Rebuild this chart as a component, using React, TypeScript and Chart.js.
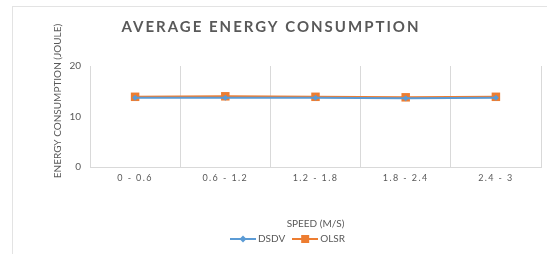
import { useEffect, useRef } from "react";
import { Chart, registerables } from "chart.js";

Chart.register(...registerables);

const categories = ["0 - 0.6", "0.6 - 1.2", "1.2 - 1.8", "1.8 - 2.4", "2.4 - 3"];
const dsdvValues = [13.7, 13.7, 13.7, 13.6, 13.7];
const olsrValues = [13.9, 14.0, 13.9, 13.8, 13.9];
const yTicks = [0, 10, 20];
const seriesNames = ["DSDV", "OLSR"];
const chartTitle = "AVERAGE ENERGY CONSUMPTION";
const yTitle = "ENERGY CONSUMPTION (JOULE)";
const xTitle = "SPEED (M/S)";

const BLUE = "#5B9BD5";
const ORANGE = "#ED7D31";
const TEXT = "#595959";
const GRID = "#D9D9D9";
const FONT = "Lato, 'Open Sans', sans-serif";
const LEGEND_SHIFT = 18;

function legendIcon(color: string, kind: "diamond" | "square") {
  const c = document.createElement("canvas");
  c.width = 26;
  c.height = 10;
  const ctx = c.getContext("2d")!;
  ctx.strokeStyle = color;
  ctx.lineWidth = 2;
  ctx.beginPath();
  ctx.moveTo(0, 5);
  ctx.lineTo(26, 5);
  ctx.stroke();
  ctx.fillStyle = color;
  if (kind === "diamond") {
    ctx.beginPath();
    ctx.moveTo(13, 1.5);
    ctx.lineTo(16.5, 5);
    ctx.lineTo(13, 8.5);
    ctx.lineTo(9.5, 5);
    ctx.closePath();
    ctx.fill();
  } else {
    ctx.fillRect(9, 1, 8, 8);
  }
  return c;
}

const decor = {
  id: "decor",
  beforeDraw(chart: any) {
    const ctx = chart.ctx;
    ctx.save();
    ctx.fillStyle = "#ffffff";
    ctx.fillRect(0, 0, chart.width, chart.height);
    ctx.strokeStyle = "#E3E3E3";
    ctx.lineWidth = 1;
    ctx.strokeRect(12.5, 6.5, 600, 300);
    ctx.restore();
  },
  afterLayout(chart: any) {
    const xs = chart.scales.x;
    if (xs && !xs.__patched) {
      const orig = xs.drawLabels.bind(xs);
      xs.drawLabels = (area: any) => {
        const ctx = chart.ctx;
        ctx.save();
        (ctx as any).letterSpacing = "1.4px";
        orig(area);
        ctx.restore();
      };
      xs.__patched = true;
    }
    if (chart.legend) {
      chart.legend.left += LEGEND_SHIFT;
      chart.legend.right += LEGEND_SHIFT;
    }
  },
  afterDraw(chart: any) {
    const ctx = chart.ctx;
    ctx.save();
    ctx.fillStyle = TEXT;
    ctx.textAlign = "center";
    ctx.textBaseline = "middle";
    ctx.font = `bold 15px ${FONT}`;
    (ctx as any).letterSpacing = "2px";
    ctx.fillText(chartTitle, 271, 27);
    (ctx as any).letterSpacing = "0px";
    ctx.font = `10px ${FONT}`;
    ctx.translate(58, 101);
    ctx.rotate(-Math.PI / 2);
    ctx.fillText(yTitle, 0, 0);
    ctx.restore();
  },
};

export default function App() {
  const ref = useRef<HTMLCanvasElement>(null);
  useEffect(() => {
    const canvas = ref.current!;
    const chart = new Chart(canvas, {
      type: "line",
      data: {
        labels: categories,
        datasets: [
          {
            label: seriesNames[0],
            data: dsdvValues,
            borderColor: BLUE,
            backgroundColor: BLUE,
            borderWidth: 2,
            pointStyle: "rectRot",
            pointRadius: 3,
            pointBorderWidth: 0,
            pointBackgroundColor: BLUE,
          },
          {
            label: seriesNames[1],
            data: olsrValues,
            borderColor: ORANGE,
            backgroundColor: ORANGE,
            borderWidth: 2.25,
            pointStyle: "rect",
            pointRadius: 6,
            pointBorderWidth: 0,
            pointBackgroundColor: ORANGE,
          },
        ],
      },
      options: {
        animation: false,
        responsive: false,
        layout: { padding: { left: 0, right: 5, top: 66, bottom: 0 } },
        scales: {
          x: {
            type: "category",
            offset: true,
            grid: { display: true, offset: true, color: GRID, drawTicks: false },
            border: { display: true, color: GRID },
            ticks: {
              color: TEXT,
              font: { family: FONT, size: 9 },
              padding: 6,
              maxRotation: 0,
              autoSkip: false,
            },
            title: {
              display: true,
              text: xTitle,
              color: TEXT,
              font: { family: FONT, size: 10 },
              padding: { top: 0, bottom: -6 },
            },
            afterFit: (s: any) => {
              s.height = 57;
            },
          },
          y: {
            min: 0,
            max: 20,
            grid: { display: false, drawTicks: false },
            border: { display: true, color: GRID },
            ticks: { color: TEXT, font: { family: FONT, size: 10 }, padding: 9 },
            afterBuildTicks: (s: any) => {
              s.ticks = yTicks.map((v) => ({ value: v }));
            },
            afterFit: (s: any) => {
              s.width = 90;
            },
          },
        },
        plugins: {
          title: { display: false },
          tooltip: { enabled: false },
          legend: {
            position: "bottom",
            labels: {
              usePointStyle: true,
              pointStyleWidth: 20,
              padding: 10,
              color: TEXT,
              font: { family: FONT, size: 10 },
              generateLabels: () => [
                {
                  text: seriesNames[0],
                  pointStyle: legendIcon(BLUE, "diamond"),
                  fillStyle: BLUE,
                  strokeStyle: BLUE,
                  lineWidth: 0,
                  fontColor: TEXT,
                  datasetIndex: 0,
                  hidden: false,
                },
                {
                  text: seriesNames[1],
                  pointStyle: legendIcon(ORANGE, "square"),
                  fillStyle: ORANGE,
                  strokeStyle: ORANGE,
                  lineWidth: 0,
                  fontColor: TEXT,
                  datasetIndex: 1,
                  hidden: false,
                },
              ],
            },
          },
        },
      } as any,
      plugins: [decor],
    });
    return () => chart.destroy();
  }, []);

  return (
    <div style={{ position: "fixed", left: 0, top: 0, width: 547, height: 254, background: "#fff" }}>
      <canvas ref={ref} width={547} height={254} style={{ display: "block" }} />
    </div>
  );
}
